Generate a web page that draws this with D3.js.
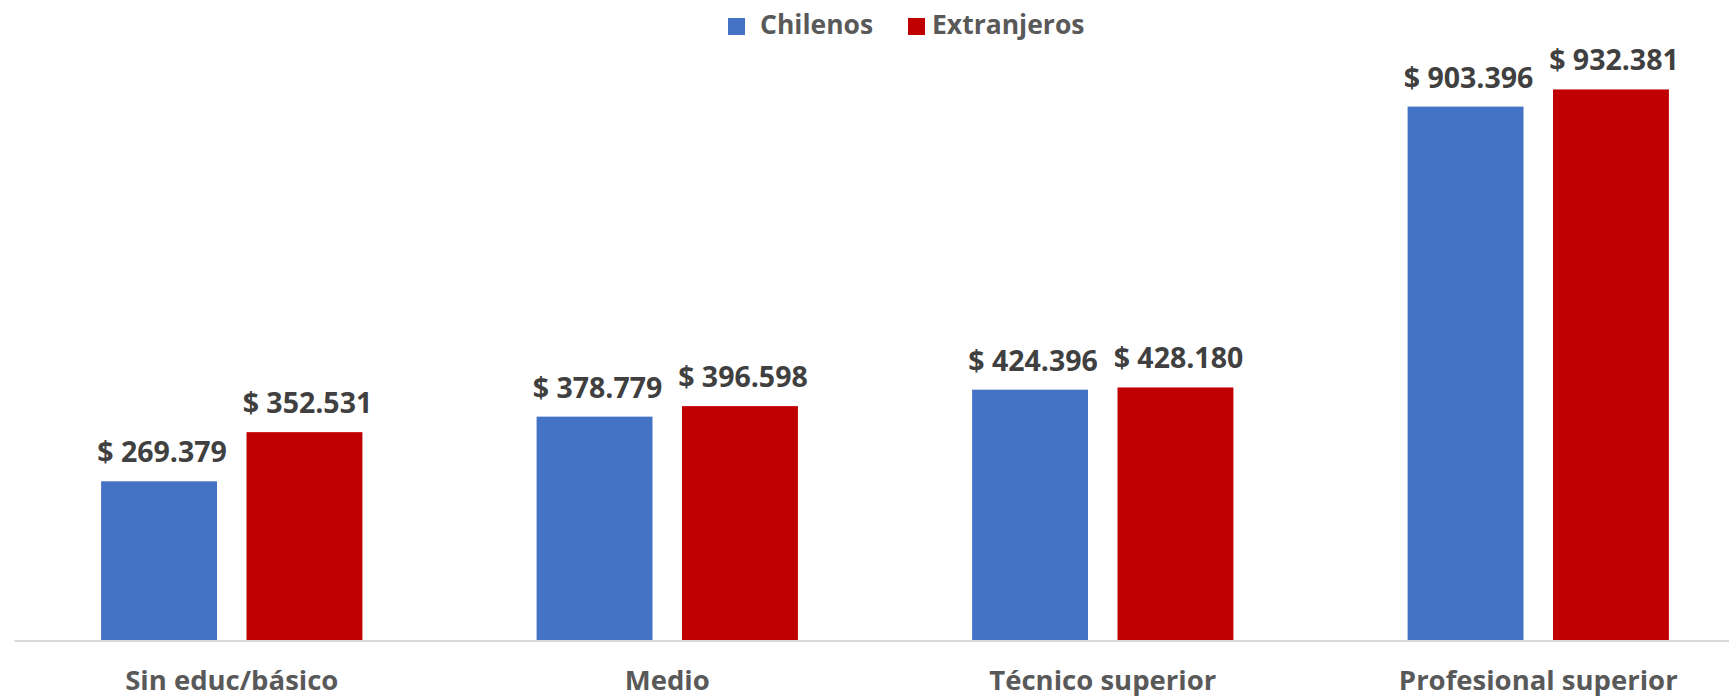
<!DOCTYPE html>
<html>
<head>
<meta charset="utf-8">
<script src="https://cdn.jsdelivr.net/npm/d3@7"></script>
<style>
  html, body { margin: 0; padding: 0; background: #fff; }
  svg { display: block; font-family: "Open Sans", "Liberation Sans", sans-serif; }
</style>
</head>
<body>
<svg id="chart" width="1729" height="698"></svg>
<script>
const categories = ["Sin educ/básico", "Medio", "Técnico superior", "Profesional superior"];
const seriesNames = ["Chilenos", "Extranjeros"];
const chilenos = [269379, 378779, 424396, 903396];
const extranjeros = [352531, 396598, 428180, 932381];
const seriesColors = ["#4472C4", "#C00000"];
const yMax = 1000000;

const seriesValues = [chilenos, extranjeros];
const data = categories.map((c, i) => ({
  category: c,
  values: seriesNames.map((s, j) => ({ series: s, value: seriesValues[j][i], color: seriesColors[j] }))
}));

const svg = d3.select("#chart");
const plot = { left: 14, right: 1756, top: 49.5, bottom: 640.5 };

const x0 = d3.scaleBand().domain(categories).range([plot.left, plot.right]).padding(0);
const x1 = d3.scaleBand().domain(seriesNames)
  .range([x0.bandwidth() * 0.2, x0.bandwidth() * 0.8])
  .paddingInner(0.203).paddingOuter(0);
const y = d3.scaleLinear().domain([0, yMax]).range([plot.bottom, plot.top]);

const loc = d3.formatLocale({ decimal: ",", thousands: ".", grouping: [3], currency: ["$ ", ""] });
const fmt = loc.format("$,");

// bars
const groups = svg.append("g").selectAll("g").data(data).join("g")
  .attr("transform", d => `translate(${x0(d.category)},0)`);

groups.selectAll("rect").data(d => d.values).join("rect")
  .attr("x", d => x1(d.series))
  .attr("y", d => y(d.value))
  .attr("width", x1.bandwidth())
  .attr("height", d => y(0) - y(d.value))
  .attr("fill", d => d.color);

groups.selectAll("text.lbl").data(d => d.values).join("text")
  .attr("class", "lbl")
  .attr("x", d => x1(d.series) + x1.bandwidth() / 2 + 3)
  .attr("y", d => y(d.value) - 19)
  .attr("text-anchor", "middle")
  .attr("font-size", 28.5)
  .attr("font-weight", 700)
  .attr("fill", "#404040")
  .text(d => fmt(d.value));

// x axis
const xAxis = svg.append("g")
  .attr("transform", `translate(0,${plot.bottom})`)
  .call(d3.axisBottom(x0).tickSize(0).tickSizeOuter(0));
xAxis.select(".domain").attr("stroke", "#D9D9D9").attr("stroke-width", 2);
xAxis.selectAll(".tick text")
  .attr("y", 49)
  .attr("dy", 0)
  .attr("font-family", "'Open Sans', sans-serif")
  .attr("font-size", 27.5)
  .attr("font-weight", 700)
  .attr("fill", "#595959");

// legend
const legendItems = [
  { name: seriesNames[0], color: seriesColors[0], x: 728, tx: 760 },
  { name: seriesNames[1], color: seriesColors[1], x: 908, tx: 932 }
];
const legend = svg.append("g");
legend.selectAll("rect").data(legendItems).join("rect")
  .attr("x", d => d.x).attr("y", 18).attr("width", 17).attr("height", 17)
  .attr("fill", d => d.color);
legend.selectAll("text").data(legendItems).join("text")
  .attr("x", d => d.tx).attr("y", 34)
  .attr("font-size", 26.5)
  .attr("font-weight", 700)
  .attr("fill", "#595959")
  .text(d => d.name);
</script>
</body>
</html>
